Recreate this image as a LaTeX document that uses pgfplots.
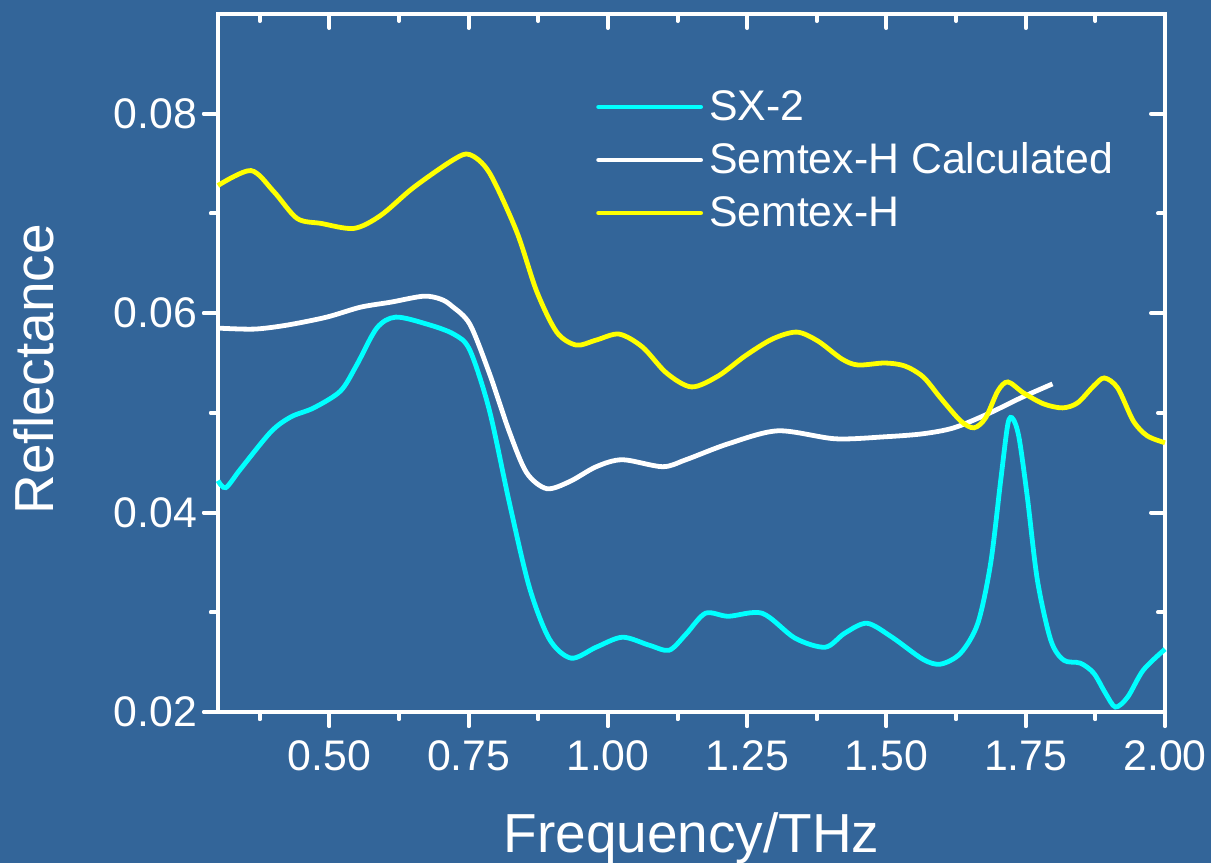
\documentclass[border=0pt]{standalone}
\usepackage{fontspec}
\setmainfont{Liberation Sans}
\usepackage{pgfplots}
\pgfplotsset{compat=1.18}
\usepackage{pgfplotstable}
\definecolor{bgc}{RGB}{51,101,153}
\definecolor{cy}{RGB}{0,255,255}
\definecolor{ye}{RGB}{255,255,0}

\pgfplotstableread{
x y
0.300 0.0432
0.314 0.0425
0.341 0.0444
0.395 0.0481
0.431 0.0496
0.472 0.0505
0.520 0.0522
0.549 0.0548
0.585 0.0585
0.619 0.0596
0.675 0.0589
0.723 0.0579
0.752 0.0563
0.787 0.0503
0.823 0.0410
0.859 0.0325
0.895 0.0273
0.934 0.0254
0.979 0.0265
1.026 0.0275
1.074 0.0267
1.110 0.0262
1.140 0.0278
1.175 0.0299
1.216 0.0296
1.277 0.0299
1.336 0.0274
1.390 0.0265
1.425 0.0279
1.465 0.0289
1.510 0.0275
1.565 0.0253
1.597 0.0248
1.633 0.0259
1.664 0.0289
1.687 0.0349
1.705 0.0432
1.718 0.0489
1.727 0.0494
1.738 0.0475
1.753 0.0415
1.771 0.0332
1.795 0.0272
1.818 0.0252
1.848 0.0249
1.872 0.0239
1.893 0.0219
1.911 0.0205
1.933 0.0215
1.961 0.0242
2.000 0.0263
}\sxtwo

\pgfplotstableread{
x y
0.300 0.0585
0.365 0.0584
0.424 0.0588
0.495 0.0596
0.556 0.0606
0.610 0.0611
0.669 0.0617
0.700 0.0614
0.720 0.0607
0.752 0.0589
0.787 0.0540
0.823 0.0481
0.854 0.0440
0.890 0.0424
0.931 0.0431
0.979 0.0446
1.026 0.0453
1.098 0.0446
1.140 0.0453
1.216 0.0469
1.305 0.0482
1.408 0.0474
1.497 0.0476
1.565 0.0479
1.621 0.0485
1.682 0.0499
1.741 0.0515
1.798 0.0529
}\calcdata

\pgfplotstableread{
x y
0.300 0.0728
0.359 0.0743
0.400 0.0722
0.442 0.0695
0.485 0.0690
0.544 0.0685
0.592 0.0698
0.651 0.0726
0.723 0.0754
0.752 0.0759
0.787 0.0741
0.836 0.0682
0.872 0.0622
0.908 0.0581
0.943 0.0568
0.979 0.0573
1.020 0.0579
1.062 0.0566
1.105 0.0540
1.150 0.0526
1.198 0.0537
1.246 0.0557
1.295 0.0574
1.339 0.0581
1.377 0.0572
1.420 0.0554
1.449 0.0548
1.497 0.0550
1.533 0.0547
1.566 0.0536
1.597 0.0515
1.633 0.0492
1.657 0.0485
1.678 0.0495
1.700 0.0522
1.718 0.0531
1.746 0.0520
1.782 0.0509
1.816 0.0505
1.843 0.0510
1.872 0.0527
1.891 0.0535
1.915 0.0525
1.943 0.0492
1.968 0.0477
2.000 0.0470
}\semtex

\begin{document}
\begin{tikzpicture}
\fill[bgc] (-109pt,-75.5pt) rectangle (496.5pt,356pt);
\pgfplotsset{
  common/.style={
    scale only axis, width=473.5pt, height=349pt,
    at={(0pt,0pt)}, anchor=south west,
    xmin=0.3, xmax=2.0, ymin=0.02, ymax=0.09,
    scaled ticks=false,
    xtick={0.5,0.75,1.0,1.25,1.5,1.75,2.0},
    minor xtick={0.375,0.625,0.875,1.125,1.375,1.625,1.875},
    ytick={0.02,0.04,0.06,0.08},
    minor ytick={0.03,0.05,0.07},
    every tick/.style={white, line width=2pt, line cap=round},
    axis line style={white, line width=2pt},
    tick align=inside,
    major tick length=7pt, minor tick length=3.5pt,
  }
}
% main box with top / right ticks pointing inside
\begin{axis}[common,
    xtick pos=top, ytick pos=right,
    xticklabels={}, yticklabels={},
  ]
\end{axis}
% tick labels, axis labels, outward ticks bottom / left
\begin{axis}[common,
    xtick pos=bottom, ytick pos=left,
    tick align=outside,
    ticklabel style={font=\fontsize{21.4}{25}\selectfont, text=white},
    /pgf/number format/assume math mode=true,
    xticklabel style={yshift=-4pt, /pgf/number format/fixed, /pgf/number format/fixed zerofill, /pgf/number format/precision=2},
    yticklabel style={/pgf/number format/fixed, /pgf/number format/fixed zerofill, /pgf/number format/precision=2},
    xlabel={Frequency/THz}, ylabel={Reflectance},
    label style={font=\fontsize{27.5}{33}\selectfont, text=white},
    xlabel style={at={(axis description cs:0.5,-0.2006)}, anchor=base},
    ylabel style={at={(axis description cs:-0.194,0.491)}, anchor=center},
  ]
\end{axis}
% data, legend, and explicit outward ticks
\begin{axis}[common, hide axis, clip=false,
    legend style={draw=none, fill=none, text=white,
      font=\fontsize{21.4}{25}\selectfont,
      at={(axis description cs:0.399,0.891)}, anchor=north west,
      inner sep=0pt, column sep=3pt, row sep=9.8pt,
      nodes={inner sep=0pt}},
    legend cell align=left,
    legend image code/.code={\draw[#1, line width=2.4pt, line cap=round] (0pt,0pt) -- (51pt,0pt);},
  ]
\addplot[cy, line width=2.4pt, smooth] table {\sxtwo};
\addlegendentry{SX-2}
\addplot[white, line width=2.4pt, smooth] table {\calcdata};
\addlegendentry{Semtex-H Calculated}
\addplot[ye, line width=2.4pt, smooth] table {\semtex};
\addlegendentry{Semtex-H}
\pgfplotsinvokeforeach{0.5,0.75,1.0,1.25,1.5,1.75,2.0}{
  \draw[white, line width=2pt, line cap=round] (axis cs:#1,0.02) -- ++(0pt,-7pt);
}
\pgfplotsinvokeforeach{0.375,0.625,0.875,1.125,1.375,1.625,1.875}{
  \draw[white, line width=2pt, line cap=round] (axis cs:#1,0.02) -- ++(0pt,-3.5pt);
}
\pgfplotsinvokeforeach{0.02,0.04,0.06,0.08}{
  \draw[white, line width=2pt, line cap=round] (axis cs:0.3,#1) -- ++(-7pt,0pt);
}
\pgfplotsinvokeforeach{0.03,0.05,0.07}{
  \draw[white, line width=2pt, line cap=round] (axis cs:0.3,#1) -- ++(-3.5pt,0pt);
}
\end{axis}
\pgfresetboundingbox
\path[use as bounding box] (-109pt,-75.5pt) rectangle (496.5pt,356pt);
\end{tikzpicture}
\end{document}
